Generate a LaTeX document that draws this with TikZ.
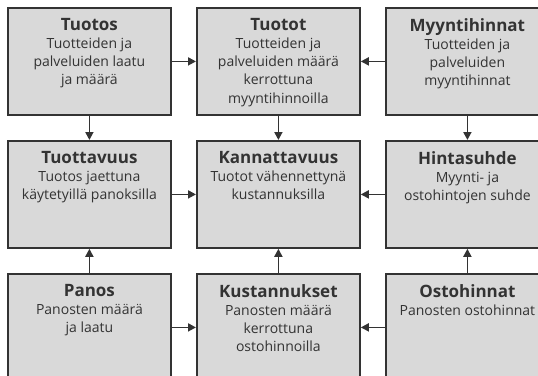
\documentclass[tikz,border=0pt]{standalone}
\usepackage{fontspec}
\setmainfont{Open Sans}
\usetikzlibrary{arrows.meta}
\definecolor{harmaa}{HTML}{D9D9D9}
\definecolor{reuna}{HTML}{333333}
\tikzset{
  laatikko/.style={draw=reuna,fill=harmaa,line width=1.8pt,minimum width=163pt,minimum height=107pt,anchor=north west,inner sep=0pt},
  teksti/.style={anchor=north,align=center,inner sep=0pt,yshift=-11pt,text=reuna,font=\fontsize{14}{18.2}\selectfont},
  nuoli/.style={draw=reuna,line width=1.8pt,-{Triangle[length=8pt,width=8pt]}}
}
\newcommand{\otsikko}[1]{{\fontsize{17}{18.2}\selectfont\bfseries #1}}
\begin{document}
\begin{tikzpicture}[x=1pt,y=1pt]
                            \useasboundingbox (0,0) rectangle (538,-375);
                            \clip (0,0) rectangle (538,-375);
                            \node[laatikko,label={[teksti]north:{\otsikko{Tuotos}\\Tuotteiden ja\\palveluiden laatu\\ja määrä}}] (tuotos) at (7,-7) {};
                            \node[laatikko,label={[teksti]north:{\otsikko{Tuotot}\\Tuotteiden ja\\palveluiden määrä\\kerrottuna\\myyntihinnoilla}}] (tuotot) at (196,-7) {};
                            \node[laatikko,label={[teksti]north:{\otsikko{Myyntihinnat}\\Tuotteiden ja\\palveluiden\\myyntihinnat}}] (myynti) at (385,-7) {};
                            \node[laatikko,label={[teksti]north:{\otsikko{Tuottavuus}\\Tuotos jaettuna\\käytetyillä panoksilla}}] (tuottavuus) at (7,-140) {};
                            \node[laatikko,label={[teksti]north:{\otsikko{Kannattavuus}\\Tuotot vähennettynä\\kustannuksilla}}] (kannattavuus) at (196,-140) {};
                            \node[laatikko,label={[teksti]north:{\otsikko{Hintasuhde}\\Myynti- ja\\ostohintojen suhde}}] (hintasuhde) at (385,-140) {};
                            \node[laatikko,label={[teksti]north:{\otsikko{Panos}\\Panosten määrä\\ja laatu}}] (panos) at (7,-273) {};
                            \node[laatikko,label={[teksti]north:{\otsikko{Kustannukset}\\Panosten määrä\\kerrottuna\\ostohinnoilla}}] (kustannukset) at (196,-273) {};
                            \node[laatikko,label={[teksti]north:{\otsikko{Ostohinnat}\\Panosten ostohinnat}}] (osto) at (385,-273) {};
                            \draw[nuoli] (tuotos) -- (tuotot);
                            \draw[nuoli] (myynti) -- (tuotot);
                            \draw[nuoli] (tuotos) -- (tuottavuus);
                            \draw[nuoli] (tuotot) -- (kannattavuus);
                            \draw[nuoli] (myynti) -- (hintasuhde);
                            \draw[nuoli] (tuottavuus) -- (kannattavuus);
                            \draw[nuoli] (hintasuhde) -- (kannattavuus);
                            \draw[nuoli] (panos) -- (tuottavuus);
                            \draw[nuoli] (kustannukset) -- (kannattavuus);
                            \draw[nuoli] (osto) -- (hintasuhde);
                            \draw[nuoli] (panos) -- (kustannukset);
                            \draw[nuoli] (osto) -- (kustannukset);
                        \end{tikzpicture}
\end{document}
